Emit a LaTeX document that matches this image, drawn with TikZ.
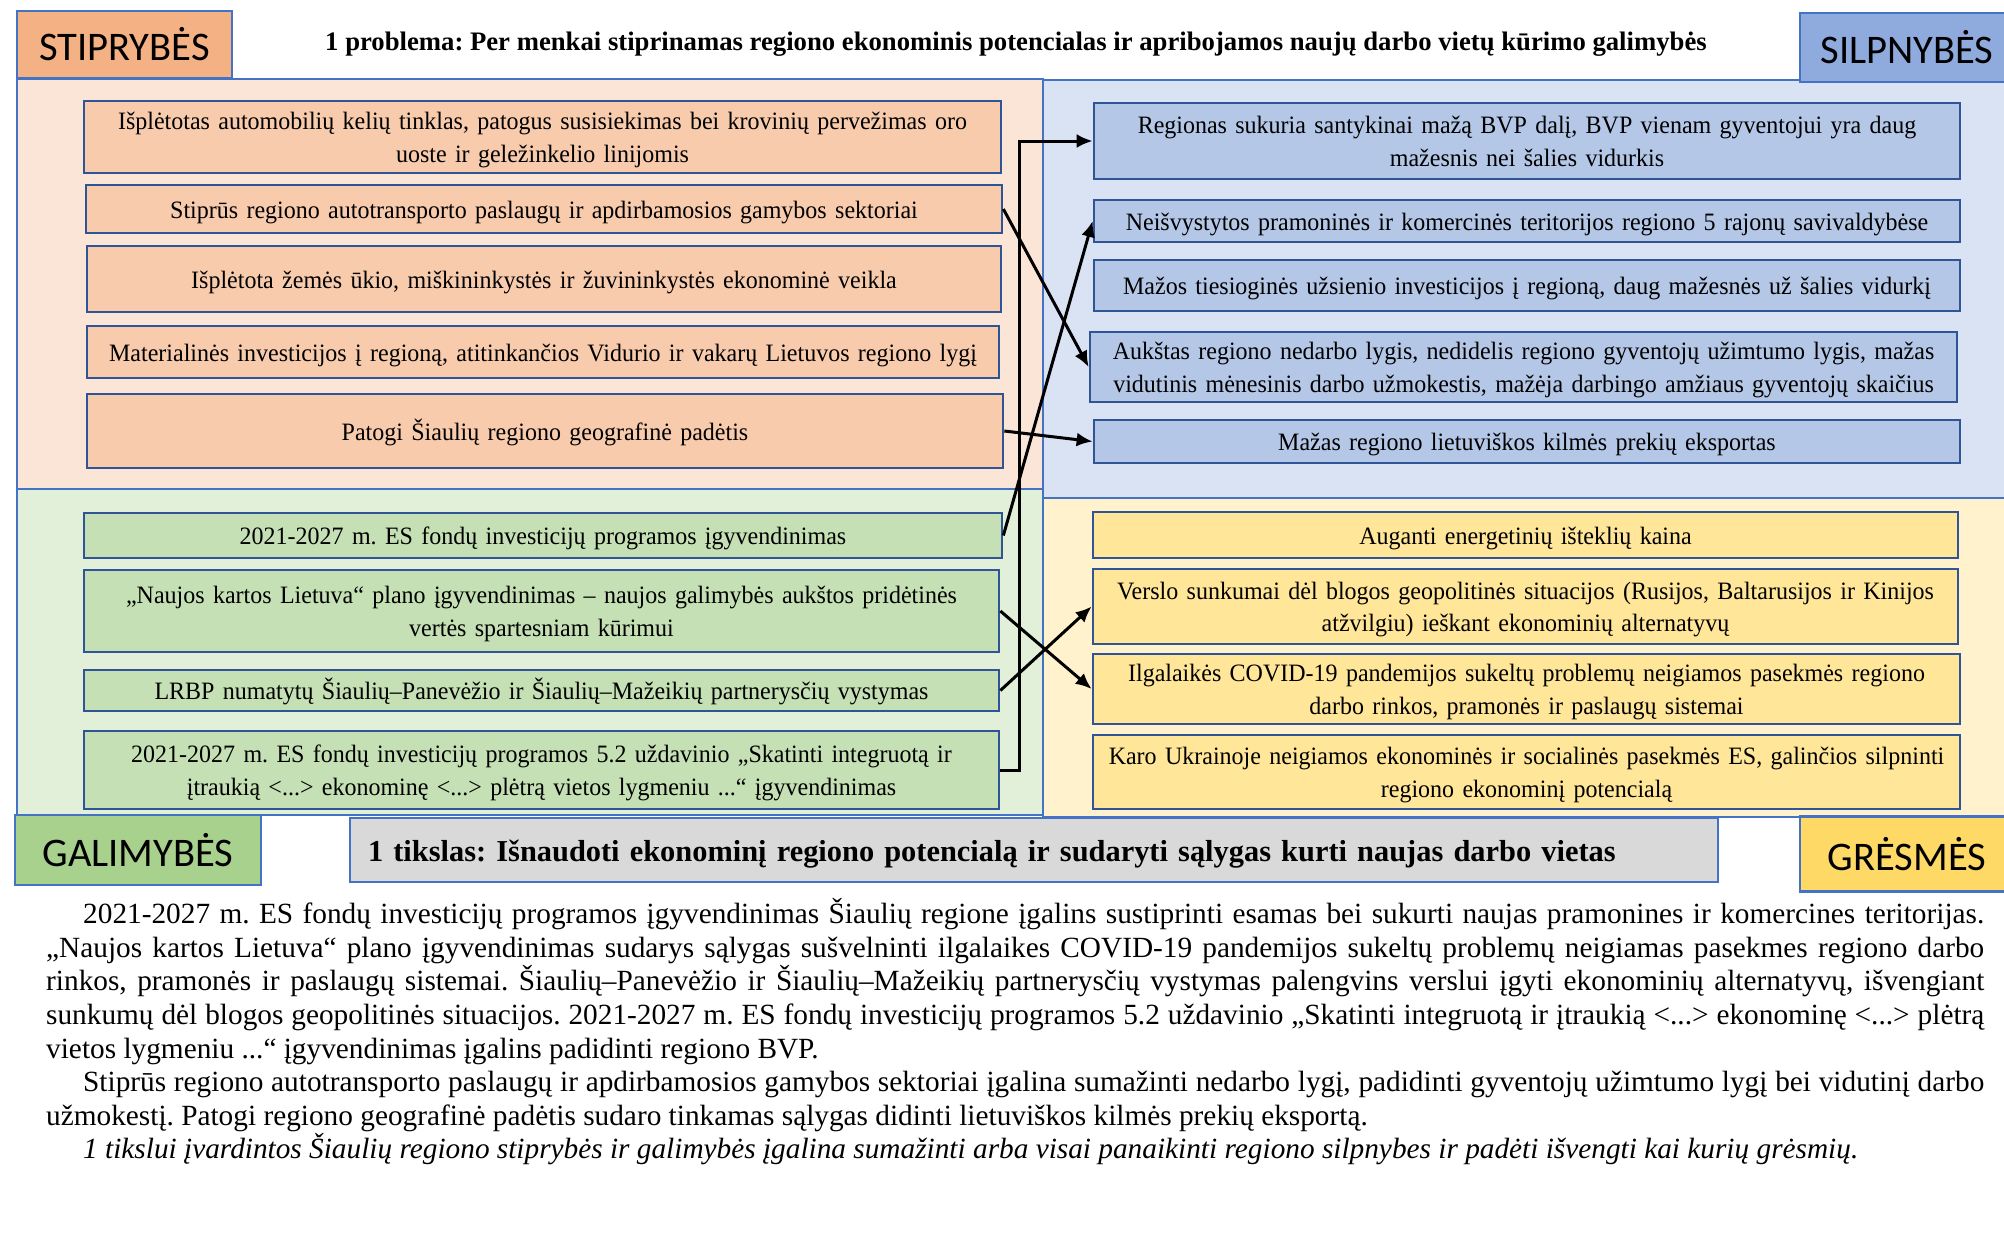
\documentclass[tikz,border=0pt]{standalone}
\usepackage{fontspec}
\setmainfont{Liberation Serif}
\newfontfamily\boxserif[FakeStretch=0.96]{Liberation Serif}
\newfontfamily\lblsans{Carlito}
\usetikzlibrary{arrows.meta}
\frenchspacing
\definecolor{sLbl}{HTML}{F4B183}
\definecolor{sPan}{HTML}{FBE5D6}
\definecolor{sBox}{HTML}{F8CBAD}
\definecolor{wLbl}{HTML}{8FAADC}
\definecolor{wPan}{HTML}{DAE3F3}
\definecolor{wBox}{HTML}{B4C7E7}
\definecolor{gLbl}{HTML}{A9D18E}
\definecolor{gPan}{HTML}{E2F0D9}
\definecolor{gBox}{HTML}{C5E0B4}
\definecolor{tLbl}{HTML}{FFD966}
\definecolor{tPan}{HTML}{FFF2CC}
\definecolor{tBox}{HTML}{FFE699}
\definecolor{goalGray}{HTML}{D9D9D9}
\definecolor{edgeBlue}{HTML}{2F5597}
\definecolor{panBlue}{HTML}{4472C4}
\newcommand\bstrut{\rule[-7pt]{0pt}{32pt}}
\tikzset{
  panel/.style={draw=panBlue, line width=2pt},
  sitem/.style={draw=edgeBlue, line width=2.7pt, inner sep=0pt, align=center,
    font=\boxserif\fontsize{25}{32.5}\selectfont,
    execute at begin node=\bstrut, execute at end node=\bstrut},
  lbl/.style={draw=panBlue, line width=2.5pt, inner sep=0pt,
    font=\lblsans\fontsize{40.6}{44}\selectfont},
  link/.style={line width=3pt, -{Latex[length=16pt,width=14pt]}},
  bodyline/.style={anchor=base west, inner sep=0pt, font=\fontsize{29.3}{34}\selectfont},
}
\begin{document}
\begin{tikzpicture}[x=1pt,y=-1pt]
\useasboundingbox (0,0) rectangle (2004,1232);
\fill[white] (0,0) rectangle (2004,1232);

% panels
\filldraw[panel, fill=sPan] (17,79) rectangle (1043,489);
\filldraw[panel, fill=wPan] (1043,80) rectangle (2012,498);
\filldraw[panel, fill=gPan] (17,489) rectangle (1043,815);
\filldraw[panel, fill=tPan] (1043,498) rectangle (2012,817);

% labels
\node[lbl, fill=sLbl, minimum width=215pt, minimum height=67pt] (lS) at (124.5,44.5) {STIPRYBĖS};
\node[lbl, fill=wLbl, minimum width=214pt, minimum height=69pt] (lW) at (1907,47.5) {SILPNYBĖS};
\node[lbl, fill=gLbl, minimum width=246pt, minimum height=70pt] (lG) at (138,850) {GALIMYBĖS};
\node[lbl, fill=tLbl, minimum width=214pt, minimum height=75pt] (lT) at (1907,854) {GRĖSMĖS};

% title and goal
\node[inner sep=0pt, font=\bfseries\fontsize{26.7}{30}\selectfont] (title) at (1016,44)
  {1 problema: Per menkai stiprinamas regiono ekonominis potencialas ir apribojamos naujų darbo vietų kūrimo galimybės};
\node[draw=panBlue, line width=2.5pt, fill=goalGray, inner xsep=18pt, inner ysep=0pt,
  text width=1332pt, align=left, minimum height=64pt,
  font=\bfseries\fontsize{30.4}{34}\selectfont] (goal) at (1034,850)
  {\rule[-12pt]{0pt}{46pt}1 tikslas: Išnaudoti ekonominį regiono potencialą ir sudaryti sąlygas kurti naujas darbo vietas};

% strengths
\node[sitem, fill=sBox, minimum width=917pt, minimum height=72pt, text width=900pt] (S1) at (542.5,137)
  {Išplėtotas automobilių kelių tinklas, patogus susisiekimas bei krovinių pervežimas oro\\ uoste ir geležinkelio linijomis};
\node[sitem, fill=sBox, minimum width=916pt, minimum height=48pt, text width=900pt] (S2) at (544,209)
  {Stiprūs regiono autotransporto paslaugų ir apdirbamosios gamybos sektoriai};
\node[sitem, fill=sBox, minimum width=914pt, minimum height=66pt, text width=900pt] (S3) at (544,279)
  {Išplėtota žemės ūkio, miškininkystės ir žuvininkystės ekonominė veikla};
\node[sitem, fill=sBox, minimum width=912pt, minimum height=52pt, text width=900pt] (S4) at (543,352)
  {Materialinės investicijos į regioną, atitinkančios Vidurio ir vakarų Lietuvos regiono lygį};
\node[sitem, fill=sBox, minimum width=916pt, minimum height=74pt, text width=900pt] (S5) at (545,431)
  {Patogi Šiaulių regiono geografinė padėtis};

% weaknesses
\node[sitem, fill=wBox, minimum width=866pt, minimum height=76pt, text width=850pt] (W1) at (1527,141)
  {Regionas sukuria santykinai mažą BVP dalį, BVP vienam gyventojui yra daug\\ mažesnis nei šalies vidurkis};
\node[sitem, fill=wBox, minimum width=866pt, minimum height=42pt, text width=850pt] (W2) at (1527,221)
  {Neišvystytos pramoninės ir komercinės teritorijos regiono 5 rajonų savivaldybėse};
\node[sitem, fill=wBox, minimum width=866pt, minimum height=51pt, text width=850pt] (W3) at (1527,285.5)
  {Mažos tiesioginės užsienio investicijos į regioną, daug mažesnės už šalies vidurkį};
\node[sitem, fill=wBox, minimum width=867pt, minimum height=70pt, text width=850pt] (W4) at (1523.5,367)
  {Aukštas regiono nedarbo lygis, nedidelis regiono gyventojų užimtumo lygis, mažas\\ vidutinis mėnesinis darbo užmokestis, mažėja darbingo amžiaus gyventojų skaičius};
\node[sitem, fill=wBox, minimum width=866pt, minimum height=43pt, text width=850pt] (W5) at (1527,441.5)
  {Mažas regiono lietuviškos kilmės prekių eksportas};

% opportunities
\node[sitem, fill=gBox, minimum width=918pt, minimum height=45pt, text width=900pt] (G1) at (543,535.5)
  {2021-2027 m. ES fondų investicijų programos įgyvendinimas};
\node[sitem, fill=gBox, minimum width=915pt, minimum height=82pt, text width=900pt] (G2) at (541.5,611)
  {„Naujos kartos Lietuva“ plano įgyvendinimas – naujos galimybės aukštos pridėtinės\\ vertės spartesniam kūrimui};
\node[sitem, fill=gBox, minimum width=915pt, minimum height=41pt, text width=900pt] (G3) at (541.5,690.5)
  {LRBP numatytų Šiaulių–Panevėžio ir Šiaulių–Mažeikių partnerysčių vystymas};
\node[sitem, fill=gBox, minimum width=915pt, minimum height=78pt, text width=900pt] (G4) at (541.5,770)
  {2021-2027 m. ES fondų investicijų programos 5.2 uždavinio „Skatinti integruotą ir\\ įtraukią <...> ekonominę <...> plėtrą vietos lygmeniu ...“ įgyvendinimas};

% threats
\node[sitem, fill=tBox, minimum width=865pt, minimum height=46pt, text width=850pt] (T1) at (1525.5,535)
  {Auganti energetinių išteklių kaina};
\node[sitem, fill=tBox, minimum width=865pt, minimum height=75pt, text width=850pt] (T2) at (1525.5,606.5)
  {Verslo sunkumai dėl blogos geopolitinės situacijos (Rusijos, Baltarusijos ir Kinijos\\ atžvilgiu) ieškant ekonominių alternatyvų};
\node[sitem, fill=tBox, minimum width=867pt, minimum height=70pt, text width=850pt] (T3) at (1526.5,689)
  {Ilgalaikės COVID-19 pandemijos sukeltų problemų neigiamos pasekmės regiono\\ darbo rinkos, pramonės ir paslaugų sistemai};
\node[sitem, fill=tBox, minimum width=867pt, minimum height=74pt, text width=850pt] (T4) at (1526.5,772)
  {Karo Ukrainoje neigiamos ekonominės ir socialinės pasekmės ES, galinčios silpninti\\ regiono ekonominį potencialą};

% connectors
\coordinate (ex) at (1019,0);
\draw[link] (S2.east) -- (W4.west);
\draw[link] (S5.east) -- (W5.west);
\draw[link] (G1.east) -- (W2.west);
\draw[link] (G4.east) -- (ex |- G4.east) -- (ex |- W1.west) -- (W1.west);
\draw[link] (G2.east) -- (T3.west);
\draw[link] (G3.east) -- (T2.west);

% body text
\node[bodyline] (b1) at (46,923) {\makebox[1938pt][s]{\hspace*{37pt}2021-2027 m. ES fondų investicijų programos įgyvendinimas Šiaulių regione įgalins sustiprinti esamas bei sukurti naujas pramonines ir komercines teritorijas.}};
\node[bodyline] (b2) at (46,957) {\makebox[1938pt][s]{„Naujos kartos Lietuva“ plano įgyvendinimas sudarys sąlygas sušvelninti ilgalaikes COVID-19 pandemijos sukeltų problemų neigiamas pasekmes regiono darbo}};
\node[bodyline] (b3) at (46,990) {\makebox[1938pt][s]{rinkos, pramonės ir paslaugų sistemai. Šiaulių–Panevėžio ir Šiaulių–Mažeikių partnerysčių vystymas palengvins verslui įgyti ekonominių alternatyvų, išvengiant}};
\node[bodyline] (b4) at (46,1024) {\makebox[1938pt][s]{sunkumų dėl blogos geopolitinės situacijos. 2021-2027 m. ES fondų investicijų programos 5.2 uždavinio „Skatinti integruotą ir įtraukią <...> ekonominę <...> plėtrą}};
\node[bodyline] (b5) at (46,1058) {vietos lygmeniu ...“ įgyvendinimas įgalins padidinti regiono BVP.};
\node[bodyline] (b6) at (46,1091) {\makebox[1938pt][s]{\hspace*{37pt}Stiprūs regiono autotransporto paslaugų ir apdirbamosios gamybos sektoriai įgalina sumažinti nedarbo lygį, padidinti gyventojų užimtumo lygį bei vidutinį darbo}};
\node[bodyline] (b7) at (46,1125) {užmokestį. Patogi regiono geografinė padėtis sudaro tinkamas sąlygas didinti lietuviškos kilmės prekių eksportą.};
\node[bodyline] (b8) at (83,1158) {\itshape 1 tikslui įvardintos Šiaulių regiono stiprybės ir galimybės įgalina sumažinti arba visai panaikinti regiono silpnybes ir padėti išvengti kai kurių grėsmių.};
\end{tikzpicture}
\end{document}
